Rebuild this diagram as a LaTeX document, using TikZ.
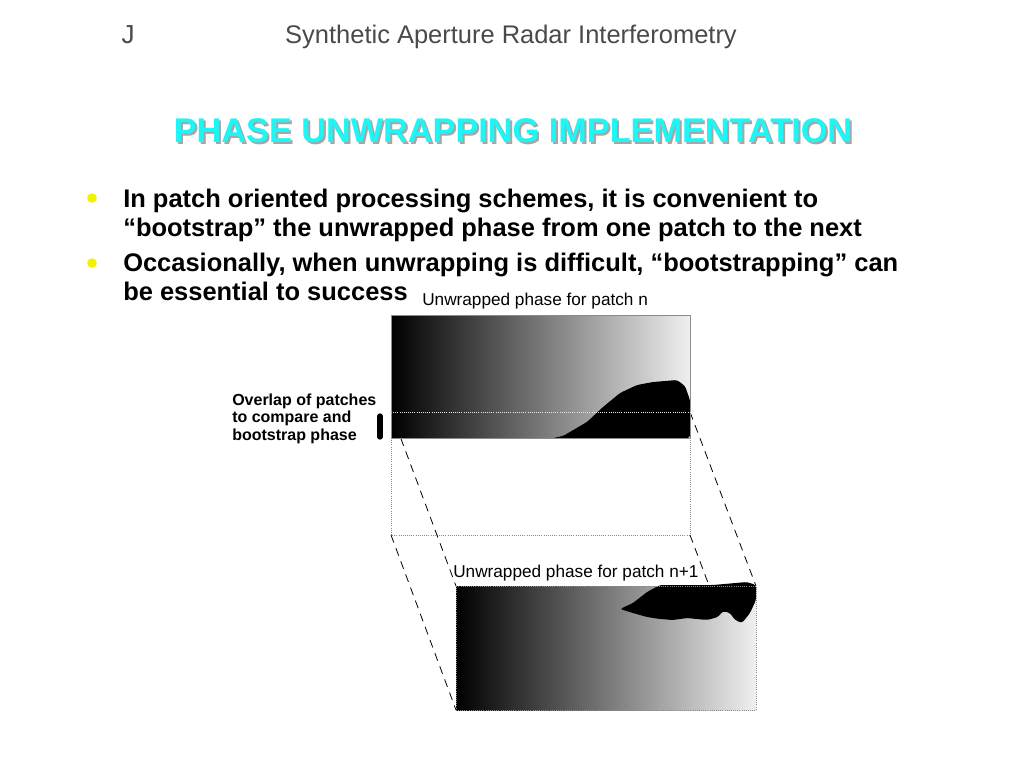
\documentclass[tikz,border=0pt]{standalone}
\usepackage{fontspec}
\setmainfont{Liberation Sans}
\definecolor{hdrgray}{HTML}{4A4A4A}
\definecolor{titlecyan}{HTML}{1EF5F5}
\definecolor{bulletyellow}{HTML}{F2F200}
\definecolor{edgegray}{HTML}{8C8C8C}
\begin{document}
\begin{tikzpicture}[x=0.75pt,y=-0.75pt,
  txt/.style={inner sep=0pt,anchor=base west},
  bodytxt/.style={txt,font=\fontsize{19.1}{22}\selectfont\bfseries},
  hdrtxt/.style={inner sep=0pt,anchor=base,text=hdrgray,font=\fontsize{19.1}{22}\selectfont},
  lbltxt/.style={txt,font=\fontsize{12.9}{15}\selectfont},
  ovltxt/.style={txt,font=\fontsize{12}{14}\selectfont\bfseries},
  titletxt/.style={inner sep=0pt,anchor=base,font=\fontsize{25.7}{30}\selectfont\bfseries},
  dashline/.style={draw=black,line width=0.6pt,dash pattern=on 6pt off 4.5pt},
  patchedge/.style={draw=edgegray,line width=0.6pt},
  bulletdot/.style={circle,fill=bulletyellow,inner sep=0pt,minimum size=7.2pt}]
\useasboundingbox (0,0) rectangle (1024,768);
\fill[white] (0,0) rectangle (1024,768);

% header
\node[hdrtxt,font=\fontsize{19.5}{22}\selectfont] (jmark) at (128,43) {J};
\node[hdrtxt] (header) at (511,43) {Synthetic Aperture Radar Interferometry};

% title with shadow
\node[titletxt,text=gray!70] (titleshadow) at (515,144) {PHASE UNWRAPPING IMPLEMENTATION};
\node[titletxt,text=titlecyan] (title) at (513,142) {PHASE UNWRAPPING IMPLEMENTATION};

% bullets
\node[bulletdot] (b1) at (92,198) {};
\node[bulletdot] (b2) at (92,263) {};
\node[bodytxt] (l1) at (123,207) {In patch oriented processing schemes, it is convenient to};
\node[bodytxt] (l2) at (123,236) {“bootstrap” the unwrapped phase from one patch to the next};
\node[bodytxt] (l3) at (123,271) {Occasionally, when unwrapping is difficult, “bootstrapping” can};
\node[bodytxt] (l4) at (123,300) {be essential to success};

% corner coordinates
\coordinate (tTL) at (391,315);
\coordinate (tBR) at (690,438);
\coordinate (ovL) at (391,412);
\coordinate (ovR) at (690,412);
\coordinate (wTL) at (391,438);
\coordinate (wBL) at (391,535);
\coordinate (wBR) at (690,535);
\coordinate (bTL) at (456,586);
\coordinate (bTR) at (756,586);
\coordinate (bBL) at (456,710);
\coordinate (bBR) at (756,710);

% white lower part of patch n
\draw[edgegray,line width=0.6pt,densely dotted] (wTL) rectangle (wBR);

% projection lines
\draw[dashline] (ovL) -- (bTL);
\draw[dashline] (ovR) -- (bTR);
\draw[dashline] (wBL) -- (bBL);
\draw[dashline] (wBR) -- (bBR);

% patch n
\shade[left color=black,right color=white!94!black] (tTL) rectangle (tBR);
\fill[black,rounded corners=2pt] (553,438) -- (563,436) -- (587,422) -- (603,407) -- (620,393) -- (637,385) -- (653,382) -- (677,380) -- (685,386) -- (690,400) -- (690,438) -- cycle;
\draw[patchedge] (tTL) rectangle (tBR);
\draw[white!80!gray,line width=0.6pt,densely dotted] (ovL) -- (ovR);

% patch n+1
\shade[left color=black,right color=white!94!black] (bTL) rectangle (bBR);
\fill[black,rounded corners=2pt] (620,609) -- (633,603) -- (647,592) -- (660,585) -- (713,585) -- (747,582) -- (756,585) -- (756,600) -- (750,613) -- (742,623) -- (735,620) -- (730,613) -- (723,611) -- (718,617) -- (707,620) -- (687,618) -- (673,620) -- (660,619) -- (647,617) -- (633,613) -- cycle;
\draw[edgegray,line width=0.6pt,densely dotted] (bTL) rectangle (bBR);

% labels
\node[lbltxt] (lbln) at (422,305) {Unwrapped phase for patch n};
\node[lbltxt] (lblnn) at (453,577) {Unwrapped phase for patch n+1};
\node[ovltxt] (o1) at (232,405) {Overlap of patches};
\node[ovltxt] (o2) at (232,422) {to compare and};
\node[ovltxt] (o3) at (232,440) {bootstrap phase};
\draw[black,line width=4pt,line cap=round] (380,416) -- (380,437);
\end{tikzpicture}
\end{document}
